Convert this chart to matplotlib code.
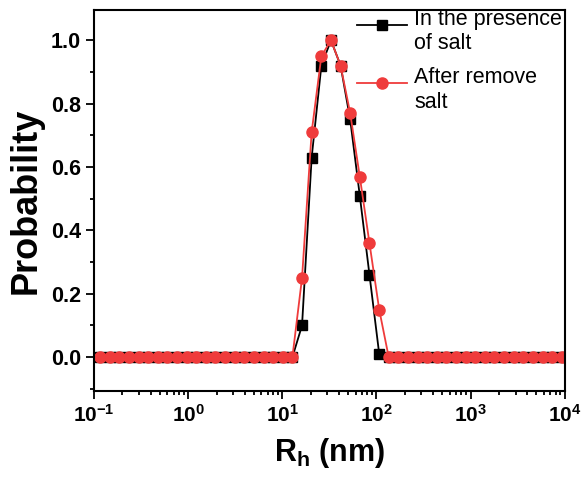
import math
import matplotlib
matplotlib.use("Agg")
import matplotlib.pyplot as plt
from matplotlib.ticker import LogLocator, MultipleLocator, NullFormatter
from matplotlib.legend_handler import HandlerLine2D

plt.rcParams['font.family'] = ['Liberation Sans', 'DejaVu Sans']
plt.rcParams['mathtext.fontset'] = 'custom'
plt.rcParams['mathtext.rm'] = 'Liberation Sans:bold'
plt.rcParams['mathtext.it'] = 'Liberation Sans:bold'
plt.rcParams['mathtext.bf'] = 'Liberation Sans:bold'

# hydrodynamic radius bins (nm)
rh = [0.116, 0.147, 0.185, 0.235, 0.297, 0.376, 0.475, 0.601, 0.762, 0.964,
      1.22, 1.54, 1.95, 2.47, 3.13, 3.95, 5.00, 6.33, 8.01, 10.1,
      12.8, 16.2, 20.5, 26.0, 32.9, 41.6, 52.6, 66.5, 84.3, 107,
      135, 171, 216, 273, 346, 438, 553, 700, 887, 1120,
      1420, 1790, 2270, 2880, 3640, 4600, 5820, 7360, 9330]

# probability, in the presence of salt
p_salt = [0]*21 + [0.10, 0.63, 0.92, 1.00, 0.92, 0.75, 0.51, 0.26, 0.01] + [0]*19
# probability, after removing salt
p_nosalt = [0]*21 + [0.25, 0.71, 0.95, 1.00, 0.92, 0.77, 0.57, 0.36, 0.15] + [0]*19

label_salt = "In the presence\nof salt"
label_nosalt = "After remove\nsalt"


class HandlerFirstLine(HandlerLine2D):
    # put the legend line next to the first text line (like Origin does)
    def create_artists(self, legend, orig_handle, xdescent, ydescent,
                       width, height, fontsize, trans):
        return super().create_artists(legend, orig_handle, xdescent,
                                      ydescent - 11, width, height,
                                      fontsize, trans)


fig = plt.figure(figsize=(5.84, 4.84), dpi=100)
ax = fig.add_axes([0.161, 0.192, 0.806, 0.787])

ax.plot(rh, p_salt, color='black', marker='s', markersize=6.5, lw=1.3, label=label_salt)
ax.plot(rh, p_nosalt, color='#ef3b3b', marker='o', markersize=8, lw=1.3, label=label_nosalt)

ax.set_xscale('log')
ax.set_xlim(0.1, 1e4)
ax.set_ylim(-0.107, 1.095)

ax.xaxis.set_major_locator(LogLocator(base=10, numticks=10))
ax.xaxis.set_minor_locator(LogLocator(base=10, subs=range(2, 10), numticks=20))
ax.xaxis.set_minor_formatter(NullFormatter())
ax.xaxis.set_major_formatter(plt.FuncFormatter(lambda v, p: r"$10^{%d}$" % round(math.log10(v))))
ax.yaxis.set_major_locator(MultipleLocator(0.2))
ax.yaxis.set_minor_locator(MultipleLocator(0.1))
ax.yaxis.set_major_formatter(plt.FuncFormatter(lambda v, p: f"{v:.1f}"))

ax.tick_params(which='both', direction='out', width=1.3, top=False, right=False)
ax.tick_params(which='major', length=6, labelsize=15)
ax.tick_params(axis='y', which='major', labelsize=15.5, pad=3.5)
ax.tick_params(which='minor', length=3)
for lab in ax.get_yticklabels():
    lab.set_fontweight('bold')
for s in ax.spines.values():
    s.set_linewidth(1.5)

ax.set_xlabel(r"R$_\mathrm{h}$ (nm)", fontsize=22, fontweight='bold', labelpad=7)
ax.set_ylabel("Probability", fontsize=26, fontweight='bold', labelpad=5)

ax.legend(loc='upper right', frameon=False, fontsize=15.5, handlelength=2.3,
          handletextpad=0.35, borderaxespad=0.0, labelspacing=0.6,
          bbox_to_anchor=(1.013, 1.025),
          handler_map={plt.Line2D: HandlerFirstLine()})

fig.savefig("out.png", dpi=100)
